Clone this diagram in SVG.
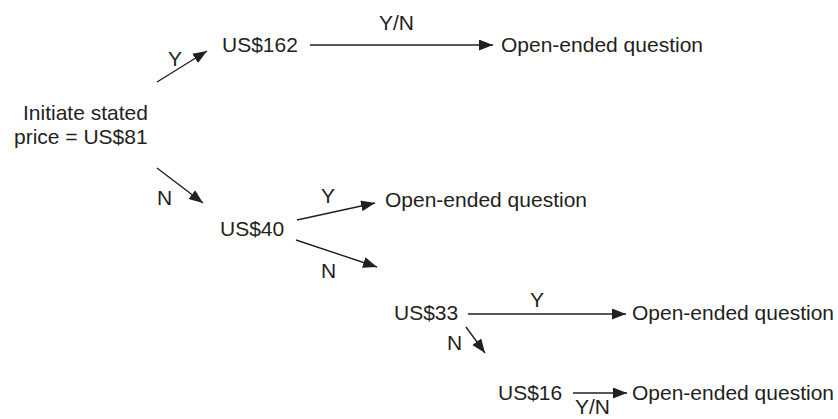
<svg xmlns="http://www.w3.org/2000/svg" width="838" height="419" viewBox="0 0 838 419">
<style>
text{font-family:"Liberation Sans",Arial,sans-serif;font-size:21px;fill:#231f20}
.c line{stroke:#231f20;stroke-width:1.4;marker-end:url(#ah)}
</style>
<defs>
<marker id="ah" markerUnits="userSpaceOnUse" markerWidth="15" markerHeight="12" refX="14" refY="5.5" orient="auto">
<path d="M0,0 L14,5.5 L0,11 z" fill="#231f20"/>
</marker>
</defs>
<g id="start"><text x="23" y="120">Initiate stated</text><text x="14" y="144">price = US$81</text></g>
<g id="p162"><text x="222" y="52">US$162</text></g>
<g id="oq1"><text x="501" y="52">Open-ended question</text></g>
<g id="p40"><text x="220" y="236">US$40</text></g>
<g id="oq2"><text x="385" y="207">Open-ended question</text></g>
<g id="p33"><text x="394" y="320">US$33</text></g>
<g id="oq3"><text x="632" y="320">Open-ended question</text></g>
<g id="p16"><text x="498" y="400">US$16</text></g>
<g id="oq4"><text x="632" y="400">Open-ended question</text></g>
<g class="c" id="connectors">
<line x1="157" y1="82" x2="207" y2="51"/>
<line x1="310" y1="45" x2="493" y2="45"/>
<line x1="157" y1="168" x2="203" y2="203"/>
<line x1="297" y1="220" x2="375" y2="203"/>
<line x1="296" y1="240" x2="377" y2="267"/>
<line x1="468" y1="314" x2="626" y2="314"/>
<line x1="466" y1="327" x2="485" y2="353"/>
<line x1="573" y1="393" x2="627" y2="393"/>
<text x="168" y="66">Y</text>
<text x="379" y="30">Y/N</text>
<text x="157" y="205">N</text>
<text x="321" y="203">Y</text>
<text x="321" y="278">N</text>
<text x="530" y="307">Y</text>
<text x="447" y="350">N</text>
<text x="575" y="414">Y/N</text>
</g>
</svg>
